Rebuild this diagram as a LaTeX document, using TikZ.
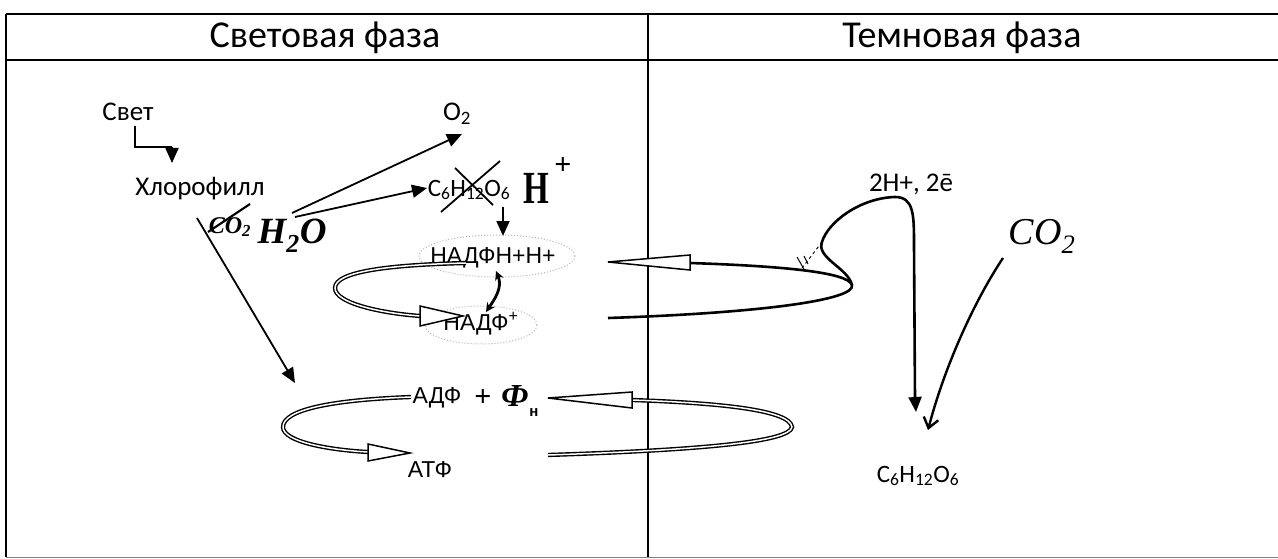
\documentclass[tikz,border=0pt]{standalone}
\usepackage{fontspec}
\setmainfont{Carlito}
\newfontfamily\arialf{Liberation Sans}
\newfontfamily\handf{Liberation Serif}
\usetikzlibrary{arrows.meta}
\begin{document}
\begin{tikzpicture}[x=1pt,y=-1pt,
  lbl/.style={inner sep=0pt, font=\fontsize{27}{29}\selectfont},
  chem/.style={inner sep=0pt, font=\arialf\fontsize{23}{25}\selectfont},
  hand/.style={inner sep=0pt, font=\handf\itshape\fontsize{37}{39}\selectfont},
  headtxt/.style={inner sep=0pt, font=\fontsize{38}{40}\selectfont},
  frame/.style={line width=1.4pt},
  arr/.style={line width=1.8pt, -{Triangle[length=15pt,width=13pt]}},
  dbl/.style={line width=1.4pt, double=white, double distance=1.5pt},
  thick2/.style={line width=2.6pt},
  hollow/.style={line width=1.5pt, fill=white, line join=miter},
  dotell/.style={gray!60, dotted, line width=1pt},
  cross/.style={line width=2.2pt}
]
\useasboundingbox (0,0) rectangle (1278,559);
% ---- frame ----
\draw[frame] (6,14) -- (1278,14);
\draw[frame] (6,60) -- (1278,60);
\draw[frame] (6,14) -- (6,557);
\draw[frame] (648,14) -- (648,557);
\draw[line width=0.6pt, gray] (6,557) -- (1278,557);
\node[headtxt] (hL) at (325,38) {Световая фаза};
\node[headtxt] (hR) at (962,38) {Темновая фаза};

% ---- light phase labels ----
\node[lbl] (svet) at (128,112) {Свет};
\node[lbl] (chl) at (200,189) {Хлорофилл};
\coordinate (svetB) at (135,126);
\coordinate (bend1) at (135,147);
\coordinate (chlT) at (172,163);
\draw[line width=1.5pt] (svetB) -- (bend1) -- (172,147);
\draw[arr] (172,147) -- (chlT);

% crossed CO2 and H2O
\node[inner sep=0pt, font=\handf\bfseries\itshape\fontsize{24}{26}\selectfont] (co2a) at (230,227) {CO\textsubscript{2}};
\draw[cross] (208,232) -- (250,204);
\node[hand, font=\handf\bfseries\itshape\fontsize{37}{39}\selectfont] (h2o) at (292,236) {H\textsubscript{2}O};

\node[lbl] (o2) at (457,114) {O\textsubscript{2}};
\node[lbl, font=\fontsize{25}{27}\selectfont] (glu1) at (469,190) {C\textsubscript{6}H\textsubscript{12}O\textsubscript{6}};
\draw[line width=1.8pt] (441,212) -- (500,161);
\draw[line width=1.8pt] (455,168) -- (493,205);
\node[inner sep=0pt, font=\handf\bfseries\fontsize{46}{48}\selectfont] (hplus) at (536,188) {\scalebox{0.72}[1]{H}};
\node[inner sep=0pt, font=\handf\bfseries\fontsize{30}{32}\selectfont] (hplus2) at (563,166) {+};

\coordinate (h2oA) at (292,213);
\coordinate (h2oB) at (295,217);
\coordinate (o2tip) at (462,134);
\coordinate (glutip) at (427,188);
\draw[arr] (h2oA) -- (o2tip);
\draw[arr] (h2oB) -- (glutip);
\coordinate (gluB) at (503,207);
\coordinate (nadphT) at (503,236);
\draw[arr] (gluB) -- (nadphT);

% NADPH / NADP+
\draw[dotell] (497,256) ellipse [x radius=78, y radius=21];
\draw[dotell] (481,325) ellipse [x radius=56, y radius=19];
\node[chem] (nadph) at (493,258) {НАДФН+Н+};
\node[chem] (nadp) at (481,324) {НАДФ\textsuperscript{+}};
\draw[line width=2.8pt, {Stealth[length=9pt,width=9pt]}-{Stealth[length=9pt,width=9pt]}] (496,271) .. controls (503,288) and (494,300) .. (486,312);

% left NADP loop (double)
\coordinate (nl1) at (466,263);
\coordinate (nlb) at (420,316);
\coordinate (nlt) at (463,316);
\draw[dbl] (nl1) .. controls (385,265) and (335,272) .. (335,288) .. controls (335,303) and (380,313) .. (nlb);
\draw[hollow] (nlt) -- (nlb |- 0,306) -- (nlb |- 0,326) -- cycle;

% right NADP loop (single thick)
\coordinate (nrtip) at (608,262);
\coordinate (nrb) at (690,263);
\coordinate (nrend) at (852,285);
\coordinate (nrlow) at (608,318);
\draw[thick2] (nrb) .. controls (780,266) and (848,272) .. (nrend) .. controls (856,300) and (760,313) .. (nrlow);
\draw[hollow] (nrtip) -- (690,255) -- (690,270) -- cycle;

% dark phase curve
\coordinate (c1) at (822,242);
\coordinate (c2) at (895,197);
\coordinate (glu2T) at (916,412);
\draw[thick2] (nrend) .. controls (848,268) and (816,258) .. (c1) .. controls (828,222) and (860,198) .. (c2) .. controls (914,197) and (914,215) .. (914,245) -- (915,398);
\draw[arr, line width=2pt] (915,396) -- (glu2T);
\draw[dashed, line width=0.9pt] (c1) -- (802,268);
\draw[line width=1pt] (797,257) -- (805,271);
\draw[line width=1pt] (804,256) -- (808,264);

\node[lbl] (twoH) at (911,184) {2H+, 2ē};
\node[inner sep=0pt, font=\handf\itshape\fontsize{38}{40}\selectfont] (co2b) at (1042,236) {CO\textsubscript{2}};
\coordinate (co2s) at (1003,258);
\coordinate (co2t) at (928,430);
\draw[line width=2.4pt, -{Straight Barb[length=10pt,width=15pt]}] (co2s) .. controls (975,300) and (945,365) .. (co2t);
\node[lbl, font=\fontsize{25}{27}\selectfont] (glu2) at (918,476) {C\textsubscript{6}H\textsubscript{12}O\textsubscript{6}};

% long arrow chlorophyll -> ATP cycle
\coordinate (la1) at (197,218);
\coordinate (la2) at (295,383);
\draw[arr] (la1) -- (la2);

% ADP / ATP
\node[chem] (adp) at (437,398) {АДФ};
\node[inner sep=0pt, font=\handf\bfseries\fontsize{30}{32}\selectfont] (plus) at (483,398) {+};
\node[inner sep=0pt, font=\handf\bfseries\itshape\fontsize{32}{34}\selectfont] (fn) at (515,396) {Ф};
\node[inner sep=0pt, font=\arialf\bfseries\fontsize{15}{16}\selectfont] (fnsub) at (534,413) {н};
\node[chem] (atp) at (430,470) {АТФ};

% left ATP loop
\coordinate (al1) at (411,397);
\coordinate (alb) at (368,452);
\coordinate (alt) at (410,453);
\draw[dbl] (al1) .. controls (330,400) and (283,410) .. (283,427) .. controls (283,442) and (330,450) .. (alb);
\draw[hollow] (alt) -- (368,444) -- (368,461) -- cycle;

% right ATP loop
\coordinate (artip) at (548,398);
\coordinate (arb) at (632,400);
\coordinate (arend) at (792,427);
\coordinate (arlow) at (548,455);
\draw[dbl] (arb) .. controls (720,403) and (790,410) .. (arend) .. controls (790,442) and (700,450) .. (arlow);
\draw[hollow] (artip) -- (632,392) -- (632,408) -- cycle;
\end{tikzpicture}
\end{document}
